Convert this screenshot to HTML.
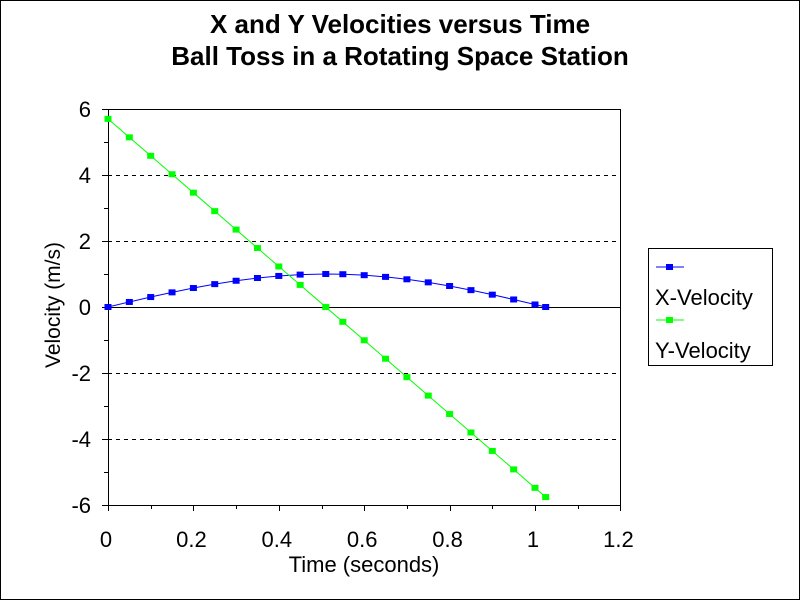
<!DOCTYPE html>
<html><head><style>body{margin:0;background:#fff}svg{display:block}text{font-family:"Liberation Sans",sans-serif}</style></head><body>
<svg id="s" width="800" height="600" viewBox="0 0 800 600">
<rect x="0.5" y="0.5" width="799" height="599" fill="#fff" stroke="#000"/>
<text x="400" y="33" font-size="26" font-weight="bold" text-anchor="middle">X and Y Velocities versus Time</text>
<text x="400" y="65" font-size="26" font-weight="bold" text-anchor="middle">Ball Toss in a Rotating Space Station</text>
<g id="grid" stroke="#000" stroke-width="1" stroke-dasharray="4,4"></g>
<rect x="108.5" y="109.5" width="512" height="396" fill="none" stroke="#000"/>
<line x1="108" y1="307.5" x2="620" y2="307.5" stroke="#000"/>
<g id="ax" stroke="#000"></g>
<g id="lab" font-size="22"></g>
<text x="364" y="572" font-size="22" text-anchor="middle">Time (seconds)</text>
<text transform="translate(60,305) rotate(-90)" font-size="21" text-anchor="middle">Velocity (m/s)</text>
<g id="ser"></g>
<rect x="648.5" y="248.5" width="124" height="117" fill="none" stroke="#000"/>
<line x1="656" y1="267" x2="684" y2="267" stroke="#00f"/><rect x="666" y="264" width="7" height="6" fill="#00f"/>
<text x="655" y="305" font-size="22">X-Velocity</text>
<line x1="656" y1="320" x2="684" y2="320" stroke="#0f0"/><rect x="666" y="317" width="7" height="6" fill="#0f0"/>
<text x="655" y="358" font-size="22">Y-Velocity</text>
</svg>
<script>
const NS="http://www.w3.org/2000/svg";
function el(p,t,a,txt){const e=document.createElementNS(NS,t);for(const k in a)e.setAttribute(k,a[k]);if(txt!=null)e.textContent=txt;document.getElementById(p).appendChild(e);}
const X=t=>108+t*427, Y=v=>307-v*33;
[4,2,-2,-4].forEach(v=>el("grid","line",{x1:108,x2:620,y1:Y(v)+.5,y2:Y(v)+.5}));
for(let v=-6;v<=6;v++){el("ax","line",{x1:v%2?104:102,x2:108,y1:Y(v)+.5,y2:Y(v)+.5});}
for(let i=0;i<=12;i++){const x=Math.round(X(i/10))+.5;el("ax","line",{x1:x,x2:x,y1:505,y2:i%2?509:511});}
[6,4,2,0,-2,-4,-6].forEach(v=>el("lab","text",{x:91,y:Y(v)+8,"text-anchor":"end"},String(v)));
[0,0.2,0.4,0.6,0.8,1,1.2].forEach(t=>el("lab","text",{x:X(t)-2,y:547,"text-anchor":"middle"},String(t)));
const ts=[];for(let i=0;i<=20;i++)ts.push(i==10?0.51:i*0.05);ts.push(1.025);
const fx=t=>1.0*Math.sin(Math.PI*t/1.025), fy=t=>5.7-11.18*t;
[[fx,"#00f"],[fy,"#0f0"]].forEach(([f,c])=>{
 el("ser","polyline",{points:ts.map(t=>X(t)+","+Y(f(t))).join(" "),fill:"none",stroke:c});
 ts.forEach(t=>el("ser","rect",{x:X(t)-3.5,y:Y(f(t))-3,width:7,height:6,fill:c}));
});
</script>
</body></html>
